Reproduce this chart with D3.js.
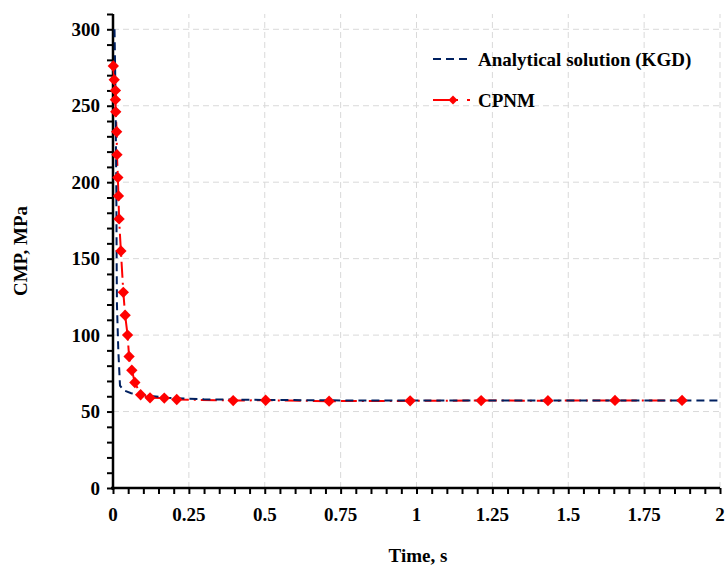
<!DOCTYPE html>
<html>
<head>
<meta charset="utf-8">
<script src="https://cdn.jsdelivr.net/npm/d3@7"></script>
<style>
  body { margin:0; background:#fff; }
  svg text { font-family:"Liberation Serif","Times New Roman",serif; font-weight:bold; fill:#000; }
</style>
</head>
<body>
<svg width="727" height="574"></svg>
<script>
const M = { top:14, right:7, bottom:86, left:113 };
const W = 727, H = 574;

// analytical solution (KGD)
const kgdT = [0.005, 0.007, 0.009, 0.011, 0.012, 0.013, 0.0175, 0.023, 0.034, 0.06, 0.09, 0.18, 0.3, 0.5, 0.75, 1.0, 1.25, 1.5, 1.75, 2.0];
const kgdP = [300, 275, 240, 195, 150, 120, 90, 67, 64, 62, 61, 59, 58, 57.6, 57.3, 57.2, 57.2, 57.2, 57.2, 57.2];

// CPNM
const cpT = [0.001, 0.004, 0.008, 0.008, 0.009, 0.012, 0.013, 0.016, 0.018, 0.020, 0.026, 0.034, 0.040, 0.048, 0.053, 0.062, 0.072, 0.091, 0.122, 0.169, 0.21, 0.396, 0.503, 0.712, 0.979, 1.213, 1.433, 1.654, 1.875];
const cpP = [276, 267, 260, 254, 246, 233, 218, 203, 191, 176, 155, 128, 113, 100, 86, 77, 69, 61, 59, 58.8, 57.9, 57.2, 57.4, 56.8, 57, 57.2, 57.1, 57.3, 57.3];

const xTicks = [0, 0.25, 0.5, 0.75, 1, 1.25, 1.5, 1.75, 2];
const yTicks = [0, 50, 100, 150, 200, 250, 300];

const svg = d3.select('svg');
const x = d3.scaleLinear().domain([0, 2]).range([M.left, W - M.right]);
const y = d3.scaleLinear().domain([0, 310]).range([H - M.bottom, M.top]);

// grid
const grid = svg.append('g').attr('stroke', '#d9d9d9').attr('stroke-width', 1).attr('stroke-dasharray', '6,4');
grid.selectAll('line.v').data(xTicks.slice(1)).join('line')
  .attr('x1', d => x(d)).attr('x2', d => x(d))
  .attr('y1', y(0)).attr('y2', y(310));
grid.selectAll('line.h').data(yTicks.slice(1)).join('line')
  .attr('x1', x(0)).attr('x2', x(2))
  .attr('y1', d => y(d)).attr('y2', d => y(d));

// axes
const xMinor = d3.range(0, 2.0001, 0.05);
const yMinor = d3.range(0, 310.001, 10);

const ax = svg.append('g').attr('transform', `translate(0,${y(0)})`);
ax.call(d3.axisBottom(x).tickValues(xMinor).tickSize(6).tickFormat(''));
ax.call(g => g.select('.domain').remove());
ax.selectAll('line').attr('stroke', '#000').attr('stroke-width', 2);
ax.append('line').attr('x1', x(0) - 2).attr('x2', x(2)).attr('stroke', '#000').attr('stroke-width', 2.5);
ax.selectAll('text.lab').data(xTicks).join('text').attr('class', 'lab')
  .attr('x', d => x(d)).attr('y', 33).attr('text-anchor', 'middle')
  .attr('font-size', 19).text(d => d);

const ay = svg.append('g').attr('transform', `translate(${x(0)},0)`);
ay.call(d3.axisLeft(y).tickValues(yMinor).tickSize(6).tickFormat(''));
ay.call(g => g.select('.domain').remove());
ay.selectAll('line').attr('stroke', '#000').attr('stroke-width', 2);
ay.append('line').attr('y1', y(0) + 2).attr('y2', y(310)).attr('stroke', '#000').attr('stroke-width', 2.5);
ay.selectAll('text.lab').data(yTicks).join('text').attr('class', 'lab')
  .attr('x', -13).attr('y', d => y(d)).attr('dy', '0.35em').attr('text-anchor', 'end')
  .attr('font-size', 19).text(d => d);

// axis titles
svg.append('text').attr('x', 418).attr('y', 562).attr('text-anchor', 'middle')
  .attr('font-size', 19).text('Time, s');
svg.append('text').attr('transform', `translate(27,${y(155)}) rotate(-90)`)
  .attr('text-anchor', 'middle').attr('font-size', 19).text('CMP, MPa');

// lines
const line = d3.line().x(d => x(d[0])).y(d => y(d[1]));
const kgd = d3.zip(kgdT, kgdP);
const cp = d3.zip(cpT, cpP);

svg.append('path').datum(cp).attr('d', line)
  .attr('fill', 'none').attr('stroke', '#ff0000').attr('stroke-width', 2)
  .attr('stroke-dasharray', '16,5,2,5');
svg.append('path').datum(kgd).attr('d', line)
  .attr('fill', 'none').attr('stroke', '#002060').attr('stroke-width', 2)
  .attr('stroke-dasharray', '8,5');

// diamonds: squares turned 45 degrees
const diamond = d3.symbol().type(d3.symbolSquare).size(64);
svg.append('g').selectAll('path').data(cp).join('path')
  .attr('transform', d => `translate(${x(d[0])},${y(d[1])}) rotate(45)`)
  .attr('d', diamond).attr('fill', '#ff0000');

// legend
const lg = svg.append('g');
lg.append('line').attr('x1', 433).attr('x2', 472).attr('y1', 59).attr('y2', 59)
  .attr('stroke', '#002060').attr('stroke-width', 2).attr('stroke-dasharray', '8,5');
lg.append('text').attr('x', 478).attr('y', 59).attr('dy', '0.35em').attr('font-size', 19)
  .text('Analytical solution (KGD)');
lg.append('line').attr('x1', 433).attr('x2', 458).attr('y1', 100).attr('y2', 100)
  .attr('stroke', '#ff0000').attr('stroke-width', 2);
lg.append('line').attr('x1', 467).attr('x2', 470).attr('y1', 100).attr('y2', 100)
  .attr('stroke', '#ff0000').attr('stroke-width', 2);
lg.append('path').attr('transform', 'translate(453,100) rotate(45)')
  .attr('d', d3.symbol().type(d3.symbolSquare).size(40)).attr('fill', '#ff0000');
lg.append('text').attr('x', 478).attr('y', 100).attr('dy', '0.35em').attr('font-size', 19)
  .text('CPNM');
</script>
</body>
</html>
